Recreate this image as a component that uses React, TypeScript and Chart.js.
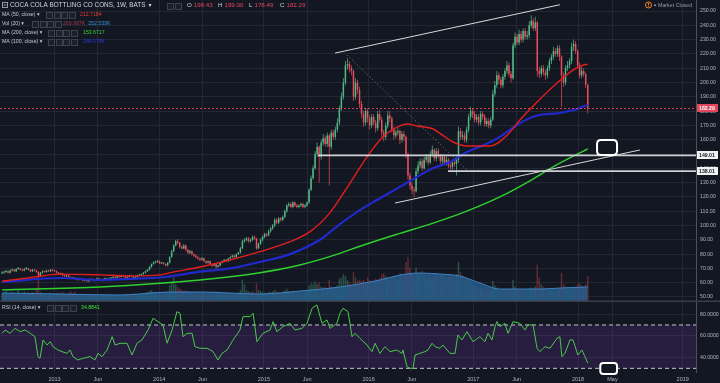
import { useEffect, useRef } from "react";
import { Chart, registerables } from "chart.js";

Chart.register(...registerables);

// ---------------- data ----------------
const firstOpen = 66.5;
const closes = [
  67, 67.5, 68, 67, 68.5, 69, 68, 69.5, 70, 69, 68.5, 69.5, 70, 69, 68, 69, 68.5, 67.5,
  65,
  67, 68, 67.5, 68.5, 68, 69, 68.5, 68,
  67, 66, 66.5, 65, 64.5, 65, 64, 63, 63.5, 62.5,
  62, 63, 62.5, 61.5, 62, 61, 62, 62.5, 61.5, 62, 63, 62, 61.5, 62.5, 63, 62, 63,
  63.5, 64, 63.5, 64.5, 64, 65, 64.5, 63.5, 64, 65, 64.5, 63, 64,
  65, 65.5, 66, 67, 68, 69,
  71, 73, 74, 74.5, 75, 73.5, 74, 73, 72, 74,
  78, 82, 86, 89, 88, 85,
  84, 86, 83, 81, 82, 80, 79,
  78, 77, 76, 77, 75, 74, 75, 73, 72, 73, 71, 72, 74,
  75, 76, 75, 77, 78, 79, 78, 80, 81, 84,
  89, 90, 91, 89, 90, 92, 91,
  84, 87,
  90, 92, 94, 93, 96, 98,
  100, 104, 102, 105, 104, 106, 110,
  114, 115, 113, 116, 114, 113, 114, 115, 113, 114, 116,
  125, 133, 140,
  150, 155, 148, 158, 161,
  157, 163, 155, 165, 162, 167, 172,
  182, 190, 200, 212,
  213, 210, 208,
  190, 200, 195, 185,
  178, 172, 180, 175, 170, 176, 172, 168, 178,
  174, 165, 162, 170, 177, 175,
  167, 163, 165, 166, 160, 164, 162,
  150, 135, 128, 125, 124,
  138, 142, 145, 140, 146, 148,
  144, 150, 153, 147, 152, 149, 145, 148,
  144, 146, 142, 141, 144, 143, 146,
  166, 162, 163, 160, 167,
  176, 180, 178, 174, 176, 172, 178,
  176, 171, 173, 170, 174,
  192, 198, 205, 202, 198, 204,
  208, 212, 206, 203,
  226, 232, 228, 234, 230, 236, 232, 233,
  240, 243, 238, 242,
  208, 206, 210, 207, 205, 210,
  215, 218, 222, 220, 224, 218,
  205, 200, 210, 212, 215,
  225, 227, 222, 212, 205,
  208, 206, 198.43,
  182.29,
];
const highs = [
  68, 68.5, 69, 68.5, 69, 70, 69.5, 70, 71, 70.5, 69.5, 70.5, 71, 70.5, 69.5, 69.5, 69.5, 69,
  68,
  67.5, 68.5, 68.5, 69, 69, 69.5, 69.5, 69,
  68.5, 67.5, 67, 67, 65.5, 65.5, 65.5, 64.5, 64, 64,
  63, 63.5, 63.5, 63, 62.5, 62.5, 62.5, 63, 63, 62.5, 63.5, 63.5, 62.5, 63, 63.5, 63.5, 63.5,
  64, 64.5, 64.5, 65, 65, 65.5, 65.5, 65, 64.5, 65.5, 65.5, 65, 64.5,
  65.5, 66, 66.5, 67.5, 68.5, 69.5,
  71.5, 73.5, 75, 75.5, 76, 75.5, 74.5, 74.5, 73.5, 74.5,
  78.5, 83, 87, 90, 90.5, 88.5,
  86, 87, 86.5, 83.5, 83, 82.5, 80.5,
  79.5, 78.5, 77.5, 78, 77.5, 75.5, 75.5, 75.5, 73.5, 73.5, 73.5, 72.5, 74.5,
  75.5, 76.5, 76.5, 77.5, 78.5, 79.5, 79.5, 80.5, 81.5, 85,
  90, 91, 92, 92, 91, 93, 93,
  91.5, 88,
  91, 93, 95, 95, 97, 99,
  101, 105, 105, 106, 106, 107, 111,
  115, 116.5, 116, 117, 117, 115, 115, 116, 116, 115, 117,
  126, 135, 142,
  152, 158, 156, 160, 164,
  163, 165, 164, 167, 167, 169, 175,
  184, 193, 203, 215,
  217, 215, 212,
  209, 203, 202, 197,
  187, 180, 182, 182, 177, 178, 178, 174, 180,
  181, 176, 167, 172, 180, 180,
  176, 169, 167, 168, 167, 166, 166,
  163, 151, 137, 130, 127,
  140, 145, 147, 147, 148, 150,
  150, 152, 156, 154, 154, 154, 150, 150,
  149, 148, 147, 144, 146, 146, 148,
  169, 168, 166, 165, 169,
  178, 183, 182, 180, 178, 178, 180,
  180, 178, 175, 175, 176,
  195, 201, 208, 207, 204, 206,
  210, 215, 214, 208,
  228, 235, 234, 237, 236, 238, 238, 236,
  243, 247, 245, 246,
  243, 211, 212, 212, 209, 212,
  217, 220, 225, 224, 226, 226,
  219, 207, 212, 215, 217,
  228, 230, 229, 223, 214,
  211, 210, 207,
  199,
];
const lows = [
  66, 66.5, 67, 66.5, 66.5, 68, 67.5, 67.5, 69, 68.5, 68, 68, 69, 68.5, 67.5, 67.5, 68, 67,
  62,
  64.5, 66.5, 67, 67, 67.5, 67.5, 68, 67.5,
  66.5, 65.5, 65.5, 64.5, 64, 64, 63.5, 62.5, 62.5, 62,
  61.5, 61.5, 62, 61, 61, 60.5, 60.5, 61.5, 61, 61, 61.5, 61.5, 61, 61, 62, 61.5, 61.5,
  62.5, 63, 63, 63, 63.5, 63.5, 64, 63, 63, 63.5, 64, 62.5, 62.5,
  63.5, 64.5, 65, 65.5, 66.5, 67.5,
  68.5, 70.5, 72.5, 73.5, 74, 73, 73, 72.5, 71.5, 71.5,
  73.5, 77.5, 81.5, 85.5, 87, 84,
  83, 83.5, 82, 80, 80, 79, 78,
  77, 76, 75, 75.5, 74.5, 73, 73.5, 72.5, 71, 71.5, 70, 70.5, 71.5,
  73.5, 74.5, 74.5, 74.5, 76.5, 77.5, 77, 77.5, 79.5, 80.5,
  83.5, 88, 89, 88, 88, 89, 90,
  83, 83.5,
  86.5, 89, 91, 92, 92.5, 95,
  97, 99, 101, 101, 103, 103, 105,
  109, 113, 112, 112, 113, 112, 112, 113, 112, 112, 113,
  115, 124, 132,
  139, 148, 130, 146, 156,
  155, 155, 128, 153, 160, 160, 165,
  170, 180, 188, 198,
  209, 207, 205,
  187, 188, 192, 182,
  175, 169, 170, 172, 167, 168, 170, 165, 166,
  172, 162, 159, 160, 168, 172,
  165, 160, 161, 163, 157, 158, 159,
  147, 132, 125, 122, 120,
  123, 136, 140, 138, 139, 144,
  142, 143, 148, 145, 145, 147, 143, 143,
  142, 142, 140, 139, 139, 141, 135,
  144, 160, 160, 158, 158,
  165, 174, 175, 172, 172, 170, 170,
  174, 169, 169, 168, 168,
  173, 190, 196, 199, 196, 196,
  202, 206, 204, 200,
  202, 224, 226, 226, 228, 228, 230, 230,
  231, 238, 236, 236,
  204, 203, 204, 205, 202, 203,
  208, 213, 216, 218, 218, 215,
  183, 197, 198, 208, 210,
  213, 222, 220, 210, 203,
  203, 204, 196,
  178.49,
];
const volumesK = [
  150, 120, 180, 140, 130, 160, 110, 150, 200, 130, 120, 170, 140, 150, 130, 160, 140, 210,
  420,
  160, 130, 140, 120, 110, 150, 130, 120,
  140, 150, 110, 160, 130, 120, 150, 170, 130, 160,
  120, 100, 110, 130, 90, 100, 110, 95, 120, 105, 90, 100, 115, 100, 95, 110, 120,
  100, 95, 110, 90, 105, 100, 120, 95, 110, 100, 130, 140, 110,
  120, 130, 110, 140, 150, 160,
  180, 200, 170, 150, 140, 160, 130, 120, 140, 150,
  280, 350, 420, 300, 250, 220,
  200, 180, 190, 170, 160, 150, 140,
  150, 130, 120, 140, 130, 110, 120, 140, 130, 150, 180, 160, 140,
  120, 110, 130, 120, 110, 130, 120, 140, 150, 200,
  380, 300, 200, 180, 160, 170, 150,
  320, 200,
  180, 160, 150, 140, 170, 160,
  180, 200, 170, 160, 150, 170, 190,
  220, 180, 160, 170, 150, 140, 160, 150, 140, 160, 170,
  280, 320, 300,
  350, 300, 330, 260, 240,
  250, 230, 380, 260, 240, 250, 280,
  400, 420, 480, 450,
  380, 340, 300,
  520, 420, 360, 380,
  360, 380, 340, 420, 380, 350, 360, 400, 380,
  420, 480, 500, 450, 400, 380,
  420, 450, 400, 380, 500, 420, 460,
  700, 790, 600, 500, 450,
  600, 500, 480, 540, 460, 420,
  480, 440, 420, 500, 460, 440, 480, 460,
  440, 420, 460, 480, 440, 420, 480,
  700, 520, 460, 420, 400,
  380, 340, 300, 280, 260, 250, 240,
  220, 230, 210, 200, 220,
  360, 280, 240, 220, 200, 210,
  200, 190, 220, 200,
  380, 260, 220, 200, 210, 190, 200, 180,
  220, 240, 230, 260,
  650, 420, 300, 260, 240, 220,
  200, 190, 210, 180, 200, 220,
  500, 300, 260, 220, 210,
  240, 220, 230, 300, 320,
  280, 260, 300,
  450,
];

// moving averages, read as (week index, value) vertices
const ma50Weeks = [0, 13.9, 28.7, 48.5, 63.4, 78.2, 85.6, 98, 112.9, 127.7, 142.6, 152.5, 162.4, 172.3, 180.7, 188.6, 197, 200.5, 205.4, 213.4, 218.3, 223.3, 230.2, 241.6, 250, 256.4, 264.9, 274.8, 282.7, 287.6, 290];
const ma50Values = [61, 63.5, 66, 65.5, 64.8, 65.5, 67.7, 71, 75.9, 81.7, 88.7, 95.7, 109, 129.7, 148, 162, 169.6, 171, 169.6, 167.5, 163, 158.4, 155.6, 155.6, 163, 173.8, 186.4, 199.7, 208.7, 212.2, 212.72];
const ma100Weeks = [0, 28.7, 48.5, 63.4, 80.7, 98, 112.9, 127.7, 142.6, 157.4, 167.3, 177.2, 185.6, 197, 205.4, 213.4, 221.8, 230.2, 238.1, 246.5, 255, 262.9, 266.3, 276.2, 284.7, 290];
const ma100Values = [60.5, 63.3, 61.9, 62.6, 64, 67.7, 70, 74.5, 80, 90, 101, 110.8, 117.8, 127, 134, 140, 144.4, 151.4, 156, 162, 170.3, 176, 177.3, 178.7, 181.5, 184.3];
const ma200Weeks = [0, 48.5, 98, 127.7, 147.5, 167.3, 177.2, 197, 212, 228.2, 246.5, 262.9, 272.8, 290];
const ma200Values = [55, 57, 61.9, 67, 72.4, 80.5, 85.5, 94.5, 101, 109, 120, 132.5, 141, 153.67];
const volMaWeeks = [0, 28.7, 58.4, 83.2, 98, 127.7, 147.5, 167.3, 187.1, 197, 207, 216.8, 226.7, 236.6, 246.5, 266.3, 276.2, 290];
const volMaValues = [143, 125, 108, 161, 161, 125, 179, 251, 377, 466, 502, 484, 448, 323, 215, 215, 233, 252.5];

// RSI (14) vertices
const rsiWeeks = [0, 1.5, 4, 6.4, 9, 11.4, 14, 16.3, 17.8, 18.8, 20.3, 22.3, 23.8, 25.2, 27.7, 29.7, 32.2, 33.7, 35.1, 37.6, 40, 43.6, 46, 47.5, 49.5, 52, 54.5, 56, 58.4, 61.9, 64.4, 66.8, 69.3, 72.3, 74.8, 77.2, 79.7, 81.7, 84.2, 86.6, 88.1, 89.6, 91.6, 94.1, 95.5, 98, 101.5, 104.5, 106.9, 108.9, 111.4, 114.4, 117.8, 119.3, 122.8, 124.3, 126.2, 129.2, 132.7, 134.2, 136.1, 139.1, 142.6, 145, 148.5, 151, 153.5, 155.9, 158.4, 160.9, 162.4, 165.8, 167.3, 168.8, 171.3, 173.3, 174.8, 177.2, 180.7, 183.2, 184.7, 187.1, 189.6, 192.1, 195.5, 198, 198.5, 200.5, 202, 203.5, 204.5, 206.9, 209.4, 210.9, 212.9, 214.4, 216.8, 218.3, 221.8, 224.3, 225.7, 227.7, 230.2, 233.2, 236.6, 239.1, 240.6, 242.6, 244.1, 245, 246.5, 249, 250.5, 253, 256.4, 258.9, 260.4, 262.9, 264.9, 266.3, 268.8, 271.3, 274.8, 276.2, 277.2, 278.7, 281.2, 282.7, 285.1, 287.1, 288.6, 290];
const rsiValues = [62.3, 65.4, 62.3, 66.9, 63.8, 65.4, 62.3, 59.2, 40.8, 39.2, 56.2, 51.5, 54.6, 50, 46.9, 45.4, 43.8, 46.9, 40.8, 37.7, 39.2, 40.8, 37.7, 43.8, 40.8, 46.9, 59.2, 51.5, 53.1, 53.1, 42.3, 53.1, 56.2, 65.4, 76.2, 73.1, 70, 53.1, 65.4, 82.3, 80.8, 59.2, 62.3, 62.3, 50, 48.5, 48.5, 45.4, 37.7, 43.8, 46.9, 56.2, 65.4, 77.7, 77.7, 80.8, 54.6, 62.3, 65.4, 73.1, 63.8, 68.5, 71.5, 65.4, 66.9, 71.5, 85.4, 88.5, 71.5, 74.6, 66.9, 71.5, 80.8, 85.4, 82.3, 59.2, 62.3, 57.7, 51.5, 45.4, 53.1, 43.8, 50, 45.4, 46.9, 43.8, 46.9, 31.5, 30, 30, 42.3, 43.8, 45.4, 46.9, 53.1, 50, 48.5, 51.5, 43.8, 43.8, 60.8, 56.2, 63.8, 54.6, 59.2, 54.6, 62.3, 56.2, 68.5, 73.1, 68.5, 71.5, 62.3, 73.1, 71.5, 65.4, 70, 70, 48.5, 45.4, 50, 48.5, 57.7, 59.2, 40.8, 43.8, 56.2, 56.2, 42.3, 46.9, 40.8, 34.88];
const rsiUpper = 70;
const rsiLower = 30;

// drawings (week index, price)
const upperChannelWeeks = [164.9, 276.2];
const upperChannelPrices = [220.6, 254.4];
const lowerChannelWeeks = [194.6, 315.8];
const lowerChannelPrices = [115.7, 152.8];
const dottedWeeks = [170.8, 230.2];
const dottedPrices = [219.2, 138.8];
const levelPrices = [149.01, 138.01];
const levelStartWeeks = [156.4, 220.8];
const calloutWeeks = [294.6, 304.5];
const calloutPrices = [149.3, 159.8];
const rsiCalloutWeeks = [296.2, 304.5];
const rsiCalloutValues = [24.8, 34.9];

// axes
const xTickValues = [2013, 2013.414, 2014, 2014.414, 2015, 2015.414, 2016, 2016.414, 2017, 2017.414, 2018, 2018.329, 2019];
const xTickLabels = ["2013", "Jun", "2014", "Jun", "2015", "Jun", "2016", "Jun", "2017", "Jun", "2018", "May", "2019"];
const priceTicks = [50, 60, 70, 80, 90, 100, 110, 120, 130, 140, 150, 160, 170, 180, 190, 200, 210, 220, 230, 240, 250];
const rsiTicks = [40, 60, 80];

const titleText = "COCA COLA BOTTLING CO CONS, 1W, BATS";
const ohlcLabels = ["O", "H", "L", "C"];
const ohlcValues = ["198.43", "199.00", "178.49", "182.29"];
const lastClose = 182.29;

// ---------------- layout / style ----------------
const X_MIN = 2012.4795;
const X_MAX = 2019.127;
const FIRST_WEEK_YEAR = 2012.499;
const WEEK_YEARS = 0.01929;
const weekToYear = (w: number) => FIRST_WEEK_YEAR + w * WEEK_YEARS;

const BG = "#131722";
const GRID = "#232734";
const AXIS = "#4c505b";
const TICK = "#b2b5be";
const UP = "#53b987";
const DOWN = "#eb4d5c";
const FONT = '"Liberation Sans", "DejaVu Sans", sans-serif';

function txt(ctx: any, s: string, x: number, y: number, color: string, size: number, bold = false) {
  ctx.font = `${bold ? "bold " : ""}${size}px ${FONT}`;
  ctx.fillStyle = color;
  ctx.textBaseline = "middle";
  ctx.textAlign = "left";
  ctx.fillText(s, x, y);
  return ctx.measureText(s).width;
}

function iconBoxes(ctx: any, x: number, y: number, count: number) {
  for (let k = 0; k < count; k++) {
    const bx = Math.round(x + k * 7.5) + 0.5;
    const by = Math.round(y - 3) + 0.5;
    ctx.fillStyle = "#1b1f2a";
    ctx.fillRect(bx, by, 6, 6);
    ctx.strokeStyle = "#3d414c";
    ctx.lineWidth = 1;
    ctx.strokeRect(bx, by, 6, 6);
  }
}

function roundRect(ctx: any, x: number, y: number, w: number, h: number, r: number) {
  ctx.beginPath();
  ctx.moveTo(x + r, y);
  ctx.lineTo(x + w - r, y);
  ctx.quadraticCurveTo(x + w, y, x + w, y + r);
  ctx.lineTo(x + w, y + h - r);
  ctx.quadraticCurveTo(x + w, y + h, x + w - r, y + h);
  ctx.lineTo(x + r, y + h);
  ctx.quadraticCurveTo(x, y + h, x, y + h - r);
  ctx.lineTo(x, y + r);
  ctx.quadraticCurveTo(x, y, x + r, y);
  ctx.closePath();
}

function axisBox(ctx: any, y: number, label: string, bg: string, fg: string) {
  ctx.fillStyle = bg;
  ctx.fillRect(697, Math.round(y) - 4, 21, 8);
  txt(ctx, label, 699, Math.round(y) + 0.2, fg, 5.2, true);
}

const mainDecor = {
  id: "mainDecor",
  afterDatasetsDraw(chart: any) {
    const { ctx, chartArea: a, scales } = chart;
    const px = (w: number) => scales.x.getPixelForValue(weekToYear(w));
    const py = (p: number) => scales.y.getPixelForValue(p);
    ctx.save();
    ctx.beginPath();
    ctx.rect(a.left, a.top, a.right - a.left, a.bottom - a.top);
    ctx.clip();
    // last price line
    ctx.strokeStyle = "rgba(235,77,92,0.85)";
    ctx.lineWidth = 1;
    ctx.setLineDash([2, 2]);
    const yl = Math.round(py(lastClose)) + 0.5;
    ctx.beginPath();
    ctx.moveTo(a.left, yl);
    ctx.lineTo(a.right, yl);
    ctx.stroke();
    // dotted projection
    ctx.setLineDash([1, 2.5]);
    ctx.strokeStyle = "rgba(150,152,160,0.8)";
    ctx.beginPath();
    ctx.moveTo(px(dottedWeeks[0]), py(dottedPrices[0]));
    ctx.lineTo(px(dottedWeeks[1]), py(dottedPrices[1]));
    ctx.stroke();
    ctx.setLineDash([]);
    // channel lines
    ctx.strokeStyle = "#d9d9d9";
    ctx.lineWidth = 1;
    ctx.beginPath();
    ctx.moveTo(px(upperChannelWeeks[0]), py(upperChannelPrices[0]));
    ctx.lineTo(px(upperChannelWeeks[1]), py(upperChannelPrices[1]));
    ctx.moveTo(px(lowerChannelWeeks[0]), py(lowerChannelPrices[0]));
    ctx.lineTo(px(lowerChannelWeeks[1]), py(lowerChannelPrices[1]));
    ctx.stroke();
    // horizontal levels
    ctx.strokeStyle = "#cfd0d4";
    ctx.lineWidth = 1.6;
    levelPrices.forEach((p, k) => {
      const y = py(p);
      ctx.beginPath();
      ctx.moveTo(px(levelStartWeeks[k]), y);
      ctx.lineTo(a.right, y);
      ctx.stroke();
    });
    // callout box
    const bx0 = px(calloutWeeks[0]);
    const bx1 = px(calloutWeeks[1]);
    const by0 = py(calloutPrices[1]);
    const by1 = py(calloutPrices[0]);
    roundRect(ctx, bx0, by0, bx1 - bx0, by1 - by0, 4);
    ctx.fillStyle = BG;
    ctx.fill();
    ctx.strokeStyle = "#ffffff";
    ctx.lineWidth = 2;
    ctx.stroke();
    ctx.restore();
  },
  afterDraw(chart: any) {
    const { ctx, scales } = chart;
    const py = (p: number) => scales.y.getPixelForValue(p);
    ctx.save();
    // axis price labels
    axisBox(ctx, py(lastClose), "182.29", "#e0475c", "#ffffff");
    axisBox(ctx, py(levelPrices[0]), "149.01", "#f2f2f2", "#131722");
    axisBox(ctx, py(levelPrices[1]), "138.01", "#f2f2f2", "#131722");
    // pane separator
    ctx.fillStyle = "#3a3e49";
    ctx.fillRect(0, 300.5, 720, 1.5);

    // title row
    ctx.strokeStyle = "#9598a1";
    ctx.lineWidth = 1;
    ctx.strokeRect(2.5, 2.5, 5, 5);
    ctx.beginPath();
    ctx.moveTo(3.5, 5);
    ctx.lineTo(6.5, 5);
    ctx.stroke();
    const tw = txt(ctx, titleText, 10, 5.5, "#d1d4dc", 6.4);
    txt(ctx, "▾", 10 + tw + 3, 5.5, "#d1d4dc", 6);
    iconBoxes(ctx, 167, 5.5, 2);
    const ohlcX = [187, 218, 249, 280];
    ohlcLabels.forEach((l, k) => {
      const w = txt(ctx, l, ohlcX[k], 5.5, "#d1d4dc", 6.2);
      txt(ctx, ohlcValues[k], ohlcX[k] + w + 2, 5.5, "#e0475c", 6.2);
    });

    // indicator rows
    const rows = [
      { label: "MA (50, close) ▾", y: 14.5, boxX: 46, valX: 80, vals: [["212.7184", "#e53935"]] },
      { label: "Vol (20) ▾", y: 24, boxX: 32, valX: 63, vals: [["260.997K", "#a83a50"], ["252.533K", "#3d8fd8"]] },
      { label: "MA (200, close) ▾", y: 33, boxX: 48, valX: 83, vals: [["153.6717", "#3ed13e"]] },
      { label: "MA (100, close) ▾", y: 42, boxX: 48, valX: 83, vals: [["184.0786", "#2a36d8"]] },
    ];
    rows.forEach((r) => {
      txt(ctx, r.label, 2, r.y, "#c5c8d0", 5.2);
      iconBoxes(ctx, r.boxX, r.y, 4);
      let x = r.valX;
      r.vals.forEach(([s, c]) => {
        const w = txt(ctx, s, x, r.y, c, 5.2);
        x += w + 3;
      });
    });

    // market closed
    ctx.strokeStyle = "#f5841f";
    ctx.lineWidth = 1;
    ctx.beginPath();
    ctx.arc(648.5, 5, 3, 0, Math.PI * 2);
    ctx.stroke();
    ctx.fillStyle = "#f5841f";
    ctx.fillRect(648, 3, 1, 2.2);
    ctx.fillRect(648, 5.8, 1, 1);
    ctx.fillStyle = "#9598a1";
    ctx.beginPath();
    ctx.arc(655, 5.3, 1, 0, Math.PI * 2);
    ctx.fill();
    txt(ctx, "Market Closed", 658, 5.5, "#9598a1", 5.3);
    ctx.restore();
  },
};

const rsiDecor = {
  id: "rsiDecor",
  afterDraw(chart: any) {
    const { ctx, scales } = chart;
    const px = (w: number) => scales.x.getPixelForValue(weekToYear(w));
    const py = (v: number) => scales.y.getPixelForValue(v);
    ctx.save();
    txt(ctx, "RSI (14, close) ▾", 2, 5.5, "#c5c8d0", 5.2);
    iconBoxes(ctx, 47, 5.5, 4);
    txt(ctx, "34.8841", 81, 5.5, "#3ee03e", 5.2);
    const x0 = px(rsiCalloutWeeks[0]);
    const x1 = px(rsiCalloutWeeks[1]);
    const y0 = py(rsiCalloutValues[1]);
    const y1 = py(rsiCalloutValues[0]);
    roundRect(ctx, x0, y0, x1 - x0, y1 - y0, 3);
    ctx.fillStyle = BG;
    ctx.fill();
    ctx.strokeStyle = "#ffffff";
    ctx.lineWidth = 2;
    ctx.stroke();
    ctx.restore();
  },
};

function xScale(showLabels: boolean, height: number) {
  return {
    type: "linear",
    min: X_MIN,
    max: X_MAX,
    offset: false,
    grid: { color: GRID, offset: false, drawTicks: false },
    border: { display: false },
    ticks: {
      display: showLabels,
      autoSkip: false,
      maxRotation: 0,
      padding: 4,
      color: TICK,
      font: { size: 5.5, family: FONT },
      callback: (_v: any, i: number) => xTickLabels[i],
    },
    afterBuildTicks: (s: any) => {
      s.ticks = xTickValues.map((v) => ({ value: v }));
    },
    afterFit: (s: any) => {
      s.height = height;
      s.paddingLeft = 0;
      s.paddingRight = 0;
    },
  };
}

function buildMain(canvas: HTMLCanvasElement) {
  const opens = closes.map((c, i) => (i === 0 ? firstOpen : closes[i - 1]));
  const n = Math.min(closes.length, highs.length, lows.length, volumesK.length);
  const idx = Array.from({ length: n }, (_, i) => i);
  const colors = idx.map((i) => (closes[i] >= opens[i] ? UP : DOWN));
  const volColors = idx.map((i) => (closes[i] >= opens[i] ? "rgba(83,185,135,0.35)" : "rgba(235,77,92,0.35)"));
  const pts = (ws: number[], vs: number[]) => ws.map((w, k) => ({ x: weekToYear(w), y: vs[k] }));

  return new Chart(canvas, {
    type: "bar",
    data: {
      datasets: [
        {
          type: "bar",
          data: idx.map((i) => ({ x: weekToYear(i), y: volumesK[i] })),
          yAxisID: "yVol",
          backgroundColor: volColors,
          barThickness: 1.5,
          grouped: false,
          inflateAmount: 0,
          order: 10,
        },
        {
          type: "line",
          data: pts(volMaWeeks, volMaValues),
          yAxisID: "yVol",
          borderColor: "#3f82bf",
          borderWidth: 1,
          backgroundColor: "rgba(38,96,148,0.78)",
          fill: "start",
          pointRadius: 0,
          cubicInterpolationMode: "monotone",
          order: 9,
        },
        {
          type: "bar",
          data: idx.map((i) => ({ x: weekToYear(i), y: [lows[i], highs[i]] })),
          backgroundColor: colors,
          barThickness: 0.7,
          grouped: false,
          inflateAmount: 0,
          order: 8,
        },
        {
          type: "bar",
          data: idx.map((i) => ({ x: weekToYear(i), y: [Math.min(opens[i], closes[i]), Math.max(opens[i], closes[i])] })),
          backgroundColor: colors,
          barThickness: 1.5,
          minBarLength: 1,
          grouped: false,
          inflateAmount: 0,
          order: 7,
        },
        {
          type: "line",
          data: pts(ma200Weeks, ma200Values),
          borderColor: "#2fd12f",
          borderWidth: 1.4,
          pointRadius: 0,
          cubicInterpolationMode: "monotone",
          order: 3,
        },
        {
          type: "line",
          data: pts(ma100Weeks, ma100Values),
          borderColor: "#2029cc",
          borderWidth: 2.2,
          pointRadius: 0,
          cubicInterpolationMode: "monotone",
          order: 2,
        },
        {
          type: "line",
          data: pts(ma50Weeks, ma50Values),
          borderColor: "#e41e1e",
          borderWidth: 1.4,
          pointRadius: 0,
          cubicInterpolationMode: "monotone",
          order: 1,
        },
      ],
    },
    options: {
      responsive: false,
      animation: false,
      events: [],
      layout: { padding: 0 },
      plugins: { legend: { display: false }, tooltip: { enabled: false } },
      scales: {
        x: xScale(false, 1),
        y: {
          position: "right",
          min: 47.2,
          max: 257.7,
          grid: { color: GRID, drawTicks: false },
          border: { color: AXIS, width: 1 },
          ticks: { color: TICK, font: { size: 5.2, family: FONT }, padding: 4, callback: (v: any) => Number(v).toFixed(2) },
          afterBuildTicks: (s: any) => {
            s.ticks = priceTicks.map((v) => ({ value: v }));
          },
          afterFit: (s: any) => {
            s.width = 24;
            s.paddingTop = 0;
            s.paddingBottom = 0;
          },
        },
        yVol: { display: false, min: 0, max: 5400 },
      },
    } as any,
    plugins: [mainDecor],
  } as any);
}

function buildRsi(canvas: HTMLCanvasElement) {
  const rn = Math.min(rsiWeeks.length, rsiValues.length);
  return new Chart(canvas, {
    type: "line",
    data: {
      datasets: [
        {
          data: [{ x: X_MIN, y: rsiUpper }, { x: X_MAX, y: rsiUpper }],
          borderColor: "#c8c8cc",
          borderWidth: 1,
          borderDash: [4, 3],
          backgroundColor: "rgba(126,60,200,0.18)",
          fill: "+1",
          pointRadius: 0,
          order: 3,
        },
        {
          data: [{ x: X_MIN, y: rsiLower }, { x: X_MAX, y: rsiLower }],
          borderColor: "#c8c8cc",
          borderWidth: 1,
          borderDash: [4, 3],
          fill: false,
          pointRadius: 0,
          order: 2,
        },
        {
          data: rsiWeeks.slice(0, rn).map((w, k) => ({ x: weekToYear(w), y: rsiValues[k] })),
          borderColor: "#4cc94c",
          borderWidth: 1,
          fill: false,
          pointRadius: 0,
          tension: 0,
          order: 1,
        },
      ],
    },
    options: {
      responsive: false,
      animation: false,
      events: [],
      layout: { padding: 0 },
      plugins: { legend: { display: false }, tooltip: { enabled: false } },
      scales: {
        x: xScale(true, 11),
        y: {
          position: "right",
          min: 26.6,
          max: 91.2,
          grid: { color: GRID, drawTicks: false },
          border: { color: AXIS, width: 1 },
          ticks: { color: TICK, font: { size: 5.2, family: FONT }, padding: 4, callback: (v: any) => Number(v).toFixed(4) },
          afterBuildTicks: (s: any) => {
            s.ticks = rsiTicks.map((v) => ({ value: v }));
          },
          afterFit: (s: any) => {
            s.width = 24;
            s.paddingTop = 0;
            s.paddingBottom = 0;
          },
        },
      },
    } as any,
    plugins: [rsiDecor],
  } as any);
}

export default function App() {
  const mainRef = useRef<HTMLCanvasElement>(null);
  const rsiRef = useRef<HTMLCanvasElement>(null);
  useEffect(() => {
    const main = buildMain(mainRef.current!);
    const rsi = buildRsi(rsiRef.current!);
    return () => {
      main.destroy();
      rsi.destroy();
    };
  }, []);
  return (
    <div style={{ position: "fixed", left: 0, top: 0, width: 720, height: 383, background: BG, overflow: "hidden" }}>
      <canvas ref={mainRef} width={720} height={302} style={{ position: "absolute", left: 0, top: 0, width: 720, height: 302 }} />
      <canvas ref={rsiRef} width={720} height={81} style={{ position: "absolute", left: 0, top: 302, width: 720, height: 81 }} />
    </div>
  );
}
